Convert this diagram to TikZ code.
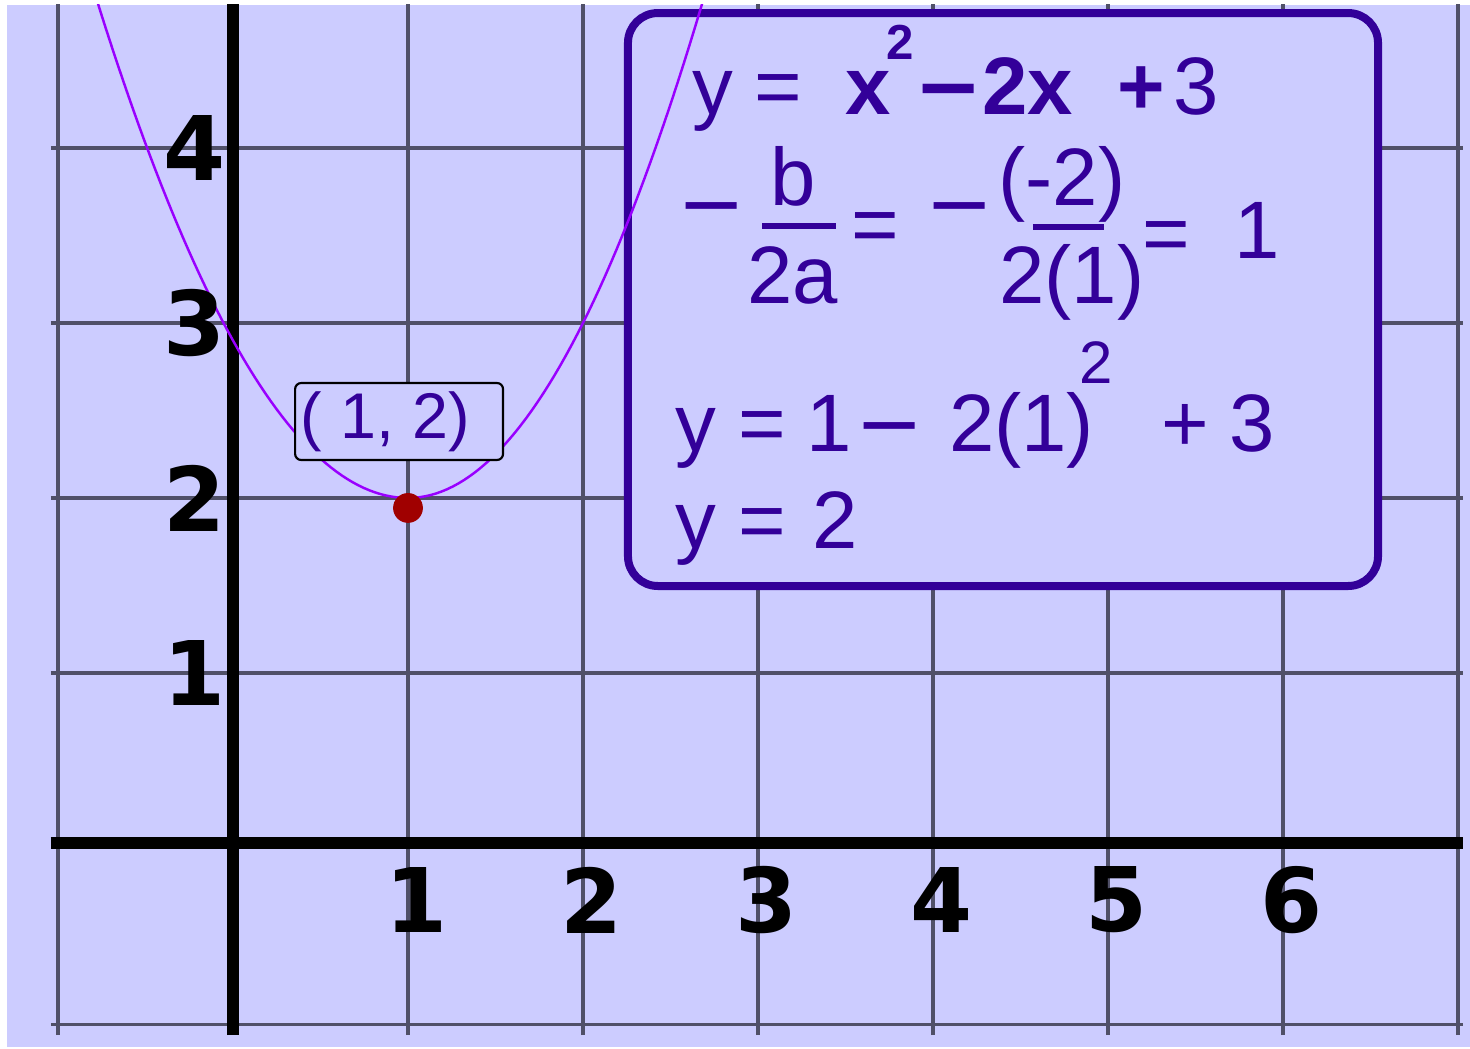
\documentclass[tikz,border=0pt]{standalone}
\usepackage{fontspec}
\newfontfamily\eqfont{Liberation Sans}
\newfontfamily\axisfont{DejaVu Sans}
\definecolor{bglav}{RGB}{204,204,255}
\definecolor{inkblue}{RGB}{51,0,153}
\definecolor{curvepurple}{RGB}{153,0,255}
\definecolor{gridgray}{RGB}{80,80,104}
\definecolor{dotred}{RGB}{160,0,0}

\begin{document}
\begin{tikzpicture}[
    x=2cm, y=2cm,
    gridline/.style={draw=gridgray, line width=1.1pt},
    axisline/.style={draw=black, line width=3.9pt},
    ticklabel/.style={font=\axisfont\bfseries\fontsize{29}{29}\selectfont, inner sep=0pt},
    eqtext/.style={text=inkblue, font=\eqfont\fontsize{26.5}{26.5}\selectfont, inner sep=0pt, anchor=base},
    eqbold/.style={eqtext, font=\eqfont\bfseries\fontsize{26.5}{26.5}\selectfont},
    minustext/.style={eqtext, font=\axisfont\fontsize{26.5}{26.5}\selectfont},
    minusbold/.style={eqtext, font=\axisfont\bfseries\fontsize{26.5}{26.5}\selectfont},
    supbold/.style={eqtext, font=\eqfont\bfseries\fontsize{16}{16}\selectfont},
    suptext/.style={eqtext, font=\eqfont\fontsize{19.5}{19.5}\selectfont},
    fracbar/.style={draw=inkblue, line width=2pt},
    infobox/.style={draw=inkblue, line width=2.6pt, rounded corners=9.7pt, fill=bglav, minimum width=8.572cm, minimum height=6.548cm},
    pointlabel/.style={draw=black, line width=0.7pt, rounded corners=2pt, fill=bglav, text=inkblue, font=\eqfont\fontsize{21}{21}\selectfont, minimum width=2.377cm, minimum height=0.88cm, inner sep=0pt},
    vertexdot/.style={circle, fill=dotred, minimum size=9.7pt, inner sep=0pt},
    parabola/.style={draw=curvepurple, line width=0.8pt}
]

% BACKGROUND
\useasboundingbox (-1.3314,-1.1486) rectangle (7.0686,4.8457);
\fill[white] (-1.3314,-1.1486) rectangle (7.0686,4.8457);
\fill[bglav] (-1.2914,-1.1371) rectangle (7.0686,4.8171);

\begin{scope}
\clip (-1.2914,-1.1371) rectangle (7.0686,4.8171);

% GRID AND AXES
\foreach \gx in {-1,1,2,...,7}
    \draw[gridline] (\gx,-1.069) -- (\gx,4.9);
\foreach \gy in {-1.01,1,2,3,4}
    \draw[gridline] (-1.04,\gy) -- (7.029,\gy);
\draw[axisline] (0,-1.069) -- (0,4.9);
\draw[axisline] (-1.04,0.026) -- (7.029,0.026);

% CALCULATION BOX
\node[infobox] (calcbox) at (4.4,3.134) {};

% CURVE
\draw[parabola] plot[domain=-0.85:1, samples=60] (\x,{2+0.9*(\x-1)*(\x-1)})
    -- plot[domain=1:2.9, samples=60] (\x,{2+(\x-1)*(\x-1)});

% VERTEX
\node[pointlabel] (vertexlabel) at (0.949,2.437) {( 1, 2)\kern 9pt};
\node[vertexdot] (vertex) at (1,1.943) {};
\end{scope}

% TICK LABELS
\foreach \k in {1,...,4}
    \node[ticklabel] (ylab\k) at (-0.217,\k) {\k};
\foreach \k in {1,...,6}
    \node[ticklabel] (xlab\k) at (\k+0.046,-0.297) {\k};

% LINE 1
\node[eqtext] (fy) at (2.743,4.189) {y};
\node[eqtext] (feq) at (3.117,4.189) {=};
\node[eqbold] (fx) at (3.629,4.189) {x};
\node[supbold] (fsq) at (3.811,4.503) {2};
\node[minusbold] (fminus) at (4.089,4.189) {−};
\node[eqbold] (ftwox) at (4.54,4.189) {2x};
\node[eqbold] (fplus) at (5.189,4.189) {+};
\node[eqtext] (fc) at (5.503,4.189) {3};

% LINE 2
\node[minustext] (vminus) at (2.734,3.52) {−};
\node[eqtext] (vb) at (3.203,3.674) {b};
\draw[fracbar] (3.023,3.554) -- (3.446,3.554);
\node[eqtext] (vtwoa) at (3.197,3.114) {2a};
\node[eqtext] (veq) at (3.671,3.4) {=};
\node[minustext] (vminustwo) at (4.151,3.52) {−};
\node[eqtext] (vnum) at (4.737,3.674) {(-2)};
\draw[fracbar] (4.571,3.549) -- (4.977,3.549);
\node[eqtext] (vden) at (4.794,3.114) {2(1)};
\node[eqtext] (veqtwo) at (5.334,3.354) {=};
\node[eqtext] (vres) at (5.851,3.371) {1};

% LINE 3
\node[eqtext] (sy) at (2.646,2.263) {y};
\node[eqtext] (seq) at (3.026,2.263) {=};
\node[eqtext] (sone) at (3.406,2.263) {1};
\node[minustext] (sminus) at (3.754,2.263) {−};
\node[eqtext] (stwo) at (4.506,2.263) {2(1)};
\node[suptext] (ssq) at (4.93,2.655) {2};
\node[eqtext] (splus) at (5.44,2.263) {+};
\node[eqtext] (sc) at (5.823,2.263) {3};

% LINE 4
\node[eqtext] (ry) at (2.646,1.714) {y};
\node[eqtext] (req) at (3.026,1.714) {=};
\node[eqtext] (rtwo) at (3.44,1.714) {2};

\end{tikzpicture}
\end{document}
